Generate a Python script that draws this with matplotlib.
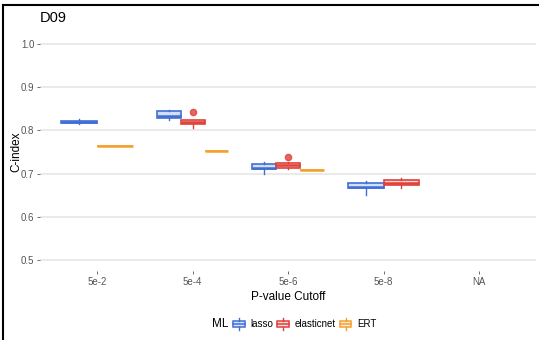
import numpy as np
import matplotlib.pyplot as plt
from matplotlib.legend_handler import HandlerBase
from matplotlib.patches import Rectangle
from matplotlib.lines import Line2D

plt.rcParams['font.family'] = ['Liberation Sans', 'DejaVu Sans']

cutoffs = ['5e-2', '5e-4', '5e-6', '5e-8', 'NA']
models = ['lasso', 'elasticnet', 'ERT']
colors = {'lasso': '#3f6fd6', 'elasticnet': '#e0403a', 'ERT': '#f5a02a'}

# box stats per model per cutoff: (whislo, q1, med, q3, whishi, outliers); None = no data
lasso = [(0.815, 0.816, 0.819, 0.822, 0.826, []),
         (0.824, 0.829, 0.833, 0.845, 0.847, []),
         (0.699, 0.711, 0.713, 0.722, 0.727, []),
         (0.650, 0.666, 0.670, 0.679, 0.683, []),
         None]
elasticnet = [None,
              (0.806, 0.815, 0.820, 0.825, 0.825, [0.842]),
              (0.710, 0.713, 0.719, 0.724, 0.726, [0.738]),
              (0.667, 0.673, 0.679, 0.686, 0.690, []),
              None]
ert = [(0.764, 0.764, 0.764, 0.764, 0.764, []),
       (0.752, 0.752, 0.752, 0.752, 0.752, []),
       (0.708, 0.708, 0.708, 0.708, 0.708, []),
       None,
       None]
data = {'lasso': lasso, 'elasticnet': elasticnet, 'ERT': ert}

fig = plt.figure(figsize=(5.39, 3.4), dpi=100)
ax = fig.add_axes([0.074, 0.203, 0.921, 0.700])

for i in range(len(cutoffs)):
    present = [m for m in models if data[m][i] is not None]
    n = len(present)
    if n == 0:
        continue
    w = 0.75 / n
    for k, m in enumerate(present):
        lo, q1, med, q3, hi, fl = data[m][i]
        st = dict(whislo=lo, q1=q1, med=med, q3=q3, whishi=hi, fliers=fl)
        c = colors[m]
        ax.bxp([st], positions=[i - 0.375 + w * (k + 0.5)], widths=w,
               patch_artist=True, showcaps=False,
               boxprops=dict(facecolor=c + '3a', edgecolor=c, linewidth=1.2),
               medianprops=dict(color=c, linewidth=1.8),
               whiskerprops=dict(color=c, linewidth=1),
               flierprops=dict(marker='o', markerfacecolor=c, markeredgecolor=c,
                               markersize=4.5, alpha=0.8))

ax.set_xlim(-0.6, 4.6)
ax.set_ylim(0.475, 1.025)
ax.set_xticks(range(len(cutoffs)))
ax.set_xticklabels(cutoffs)
ax.set_yticks(np.arange(0.5, 1.01, 0.1))
ax.set_yticklabels([f'{v:.1f}' for v in np.arange(0.5, 1.01, 0.1)])
ax.tick_params(labelsize=7, colors='#555555', length=2, width=0.6, pad=2)
ax.grid(axis='y', color='#e4e4e4', linewidth=1.1)
ax.set_axisbelow(True)
for s in ax.spines.values():
    s.set_visible(False)
ax.set_xlabel('P-value Cutoff', fontsize=8.5, labelpad=3)
ax.set_ylabel('C-index', fontsize=8.5)
ax.yaxis.set_label_coords(-0.036, 0.5)
fig.text(0.074, 0.925, 'D09', fontsize=10.5, ha='left', va='bottom')


class BoxHandler(HandlerBase):
    def create_artists(self, legend, orig, xd, yd, width, height, fontsize, trans):
        c = orig.get_edgecolor()
        x0, y0 = -xd, -yd
        r = Rectangle((x0, y0 + height * 0.2), width, height * 0.6,
                      facecolor=orig.get_facecolor(), edgecolor=c, lw=1.1, transform=trans)
        mid = Line2D([x0, x0 + width], [y0 + height / 2] * 2, color=c, lw=1.1, transform=trans)
        top = Line2D([x0 + width / 2] * 2, [y0 + height * 0.8, y0 + height], color=c, lw=1, transform=trans)
        bot = Line2D([x0 + width / 2] * 2, [y0, y0 + height * 0.2], color=c, lw=1, transform=trans)
        return [r, mid, top, bot]


handles = [Rectangle((0, 0), 1, 1, facecolor=colors[m] + '30', edgecolor=colors[m]) for m in models]
fig.legend(handles, models, loc='center left', bbox_to_anchor=(233 / 539, 0.047), ncol=3, frameon=False,
           fontsize=7, handlelength=1.2, handleheight=1.4, handletextpad=0.55, columnspacing=0.45,
           borderpad=0, borderaxespad=0, handler_map={Rectangle: BoxHandler()})
fig.text(212 / 539, 0.047, 'ML', fontsize=8.5, ha='left', va='center')

# border lines at top and left of the image
fig.add_artist(Line2D([0.006, 1], [0.984, 0.984], color='black', lw=1.5, transform=fig.transFigure))
fig.add_artist(Line2D([0.006, 0.006], [0, 0.984], color='black', lw=1.5, transform=fig.transFigure))

fig.savefig('out.png', dpi=100)
